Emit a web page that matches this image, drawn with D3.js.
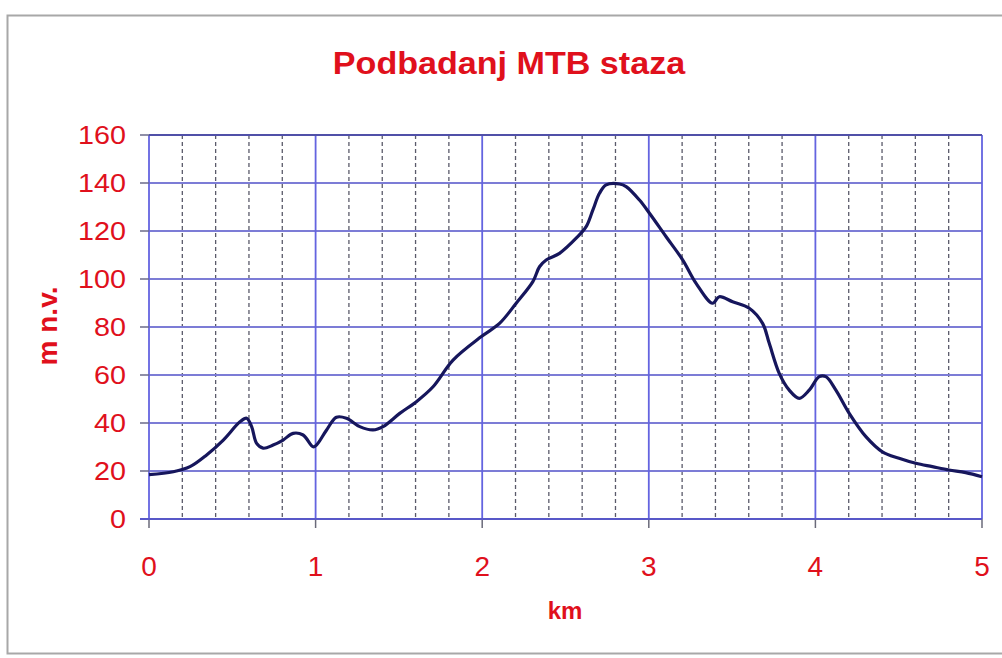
<!DOCTYPE html>
<html>
<head>
<meta charset="utf-8">
<script src="https://cdn.jsdelivr.net/npm/d3@7"></script>
<style>
body { margin: 0; background: #fff; }
svg text { font-family: Arial, "Liberation Sans", sans-serif; }
</style>
</head>
<body>
<div id="vis"></div>
<script>
var width = 1002,
    height = 658;

// profile data: distance (km) and altitude (m n.v.)
var km = [0, 0.146, 0.246, 0.346, 0.446, 0.546, 0.586, 0.616, 0.646, 0.685, 0.745, 0.805, 0.865, 0.925, 0.985, 1.005,
    1.065, 1.125, 1.185, 1.265, 1.345, 1.405, 1.505, 1.605, 1.705, 1.825, 1.995, 2.104, 2.204, 2.304, 2.344, 2.384,
    2.464, 2.564, 2.624, 2.664, 2.704, 2.744, 2.824, 2.864, 2.944, 3.004, 3.104, 3.204, 3.284, 3.383, 3.423, 3.503,
    3.603, 3.683, 3.723, 3.783, 3.843, 3.903, 3.963, 4.023, 4.063, 4.123, 4.203, 4.303, 4.402, 4.502, 4.603, 4.702,
    4.802, 4.902, 5];
var alt = [18.5, 19.7, 21.8, 26.7, 32.9, 40.5, 42, 38.5, 31.5, 29.5, 30.8, 32.9, 35.7, 35, 30.1, 30.8,
    37, 42.4, 42, 38.5, 37.1, 38.5, 44, 48.9, 55.1, 66.2, 76, 81.5, 89.9, 98.9, 105.1, 107.9,
    110.7, 117, 121.8, 128.7, 135.7, 139.2, 139.6, 138.5, 132.9, 127.4, 117.6, 107.9, 98.2, 89.9, 92.6, 90.5,
    87.8, 81.5, 73.2, 60.7, 53.7, 50.3, 53.7, 59.3, 59.3, 53.7, 44, 34.3, 28, 25.3, 23.2, 21.8,
    20.4, 19.3, 17.6];

var xTicks = [0, 1, 2, 3, 4, 5];
var xMinor = d3.range(0.2, 5, 0.2).filter(function(d) { return Math.abs(d - Math.round(d)) > 0.01; });
var yTicks = [0, 20, 40, 60, 80, 100, 120, 140, 160];

var titleText = "Podbadanj MTB staza";
var xTitle = "km";
var yTitle = "m n.v.";

var red = "#e0101c";

var svg = d3.select("#vis").append("svg")
    .attr("width", width)
    .attr("height", height);

// outer chart frame
svg.append("rect")
    .attr("x", 7.5).attr("y", 15.5)
    .attr("width", 1000).attr("height", 638)
    .attr("fill", "#fff")
    .attr("stroke", "#a8a8a8")
    .attr("stroke-width", 2);

var plotLeft = 149, plotRight = 982, plotTop = 135, plotBottom = 519;

var x = d3.scaleLinear().domain([0, 5]).range([plotLeft, plotRight]);
var y = d3.scaleLinear().domain([0, 160]).range([plotBottom, plotTop]);

// minor dashed verticals
svg.append("g").selectAll("line")
    .data(xMinor)
    .enter().append("line")
    .attr("x1", x).attr("x2", x)
    .attr("y1", plotTop).attr("y2", plotBottom)
    .attr("stroke", "#5a5a6a")
    .attr("stroke-width", 1.3)
    .attr("stroke-dasharray", "4,3");

// horizontal gridlines
svg.append("g").selectAll("line")
    .data(yTicks)
    .enter().append("line")
    .attr("x1", plotLeft).attr("x2", plotRight)
    .attr("y1", y).attr("y2", y)
    .attr("stroke", "#7c7cd6")
    .attr("stroke-width", 2);

// major verticals
svg.append("g").selectAll("line")
    .data(xTicks)
    .enter().append("line")
    .attr("x1", x).attr("x2", x)
    .attr("y1", plotTop).attr("y2", plotBottom)
    .attr("stroke", "#6464e0")
    .attr("stroke-width", 1.8);

// y tick marks
svg.append("g").selectAll("line")
    .data(yTicks)
    .enter().append("line")
    .attr("x1", plotLeft - 9).attr("x2", plotLeft)
    .attr("y1", y).attr("y2", y)
    .attr("stroke", "#6a6a8a")
    .attr("stroke-width", 1.5);

// x tick marks
svg.append("g").selectAll("line")
    .data(xTicks)
    .enter().append("line")
    .attr("x1", x).attr("x2", x)
    .attr("y1", plotBottom).attr("y2", plotBottom + 9)
    .attr("stroke", "#6a6a7a")
    .attr("stroke-width", 1.5);

// top and bottom borders
svg.append("line")
    .attr("x1", plotLeft).attr("x2", plotRight)
    .attr("y1", plotTop).attr("y2", plotTop)
    .attr("stroke", "#5050a8")
    .attr("stroke-width", 2);
svg.append("line")
    .attr("x1", plotLeft - 9).attr("x2", plotRight)
    .attr("y1", plotBottom).attr("y2", plotBottom)
    .attr("stroke", "#5858c8")
    .attr("stroke-width", 2.2);

// tick labels (source font is slightly wide, so stretch horizontally)
svg.append("g").selectAll("text")
    .data(yTicks)
    .enter().append("text")
    .attr("transform", function(d) { return "translate(" + (plotLeft - 23) + "," + (y(d) + 8.5) + ") scale(1.15,1)"; })
    .attr("text-anchor", "end")
    .attr("fill", red)
    .style("font-size", "25px")
    .text(function(d) { return d; });

svg.append("g").selectAll("text")
    .data(xTicks)
    .enter().append("text")
    .attr("x", x)
    .attr("y", 576)
    .attr("text-anchor", "middle")
    .attr("fill", red)
    .style("font-size", "28px")
    .text(function(d) { return d; });

// profile line
var line = d3.line()
    .x(function(d, i) { return x(km[i]); })
    .y(function(d) { return y(d); })
    .curve(d3.curveCatmullRom);

svg.append("path")
    .datum(alt)
    .attr("d", line)
    .attr("fill", "none")
    .attr("stroke", "#16165c")
    .attr("stroke-width", 3.2)
    .attr("stroke-linejoin", "round");

// titles
svg.append("text")
    .attr("transform", "translate(509,74) scale(1.1,1)")
    .attr("text-anchor", "middle")
    .attr("fill", red)
    .style("font-size", "31px")
    .style("font-weight", "bold")
    .text(titleText);

svg.append("text")
    .attr("x", 565).attr("y", 619)
    .attr("text-anchor", "middle")
    .attr("fill", red)
    .style("font-size", "24px")
    .style("font-weight", "bold")
    .text(xTitle);

svg.append("text")
    .attr("transform", "translate(57,326) rotate(-90)")
    .attr("text-anchor", "middle")
    .attr("fill", red)
    .style("font-size", "28px")
    .style("font-weight", "bold")
    .text(yTitle);
</script>
</body>
</html>
